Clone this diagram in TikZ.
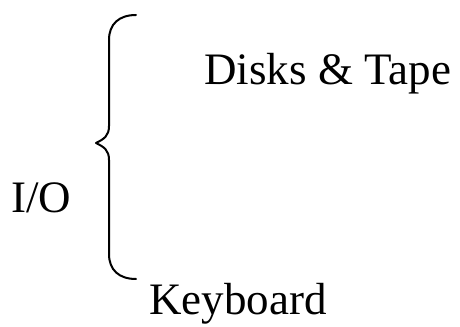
\documentclass[tikz,border=0pt]{standalone}
\usepackage{fontspec}
\setmainfont{Liberation Serif}
\begin{document}
\begin{tikzpicture}[x=0.75pt,y=-0.75pt,
  label text/.style={font=\fontsize{33.75pt}{40pt}\selectfont, inner sep=0pt, anchor=base west},
  brace line/.style={line width=1.5pt, line cap=round, line join=round}]
\useasboundingbox (0,0) rectangle (460,327);
% the curly brace
\coordinate (btop) at (136,15);
\coordinate (btip) at (96,143);
\coordinate (bbot) at (136,279);
\draw[brace line] (btop) .. controls (119,15) and (109,24) .. (109,40)
  -- (109,126) .. controls (109,136) and (104,139) .. (btip)
  .. controls (104,147) and (109,150) .. (109,160)
  -- (109,254) .. controls (109,270) and (119,279) .. (bbot);
% labels
\node[label text] (io) at (11,213) {I/O};
\node[label text] (disks) at (204,85) {Disks \& Tape};
\node[label text] (keyb) at (149,315) {Keyboard};
\end{tikzpicture}
\end{document}
